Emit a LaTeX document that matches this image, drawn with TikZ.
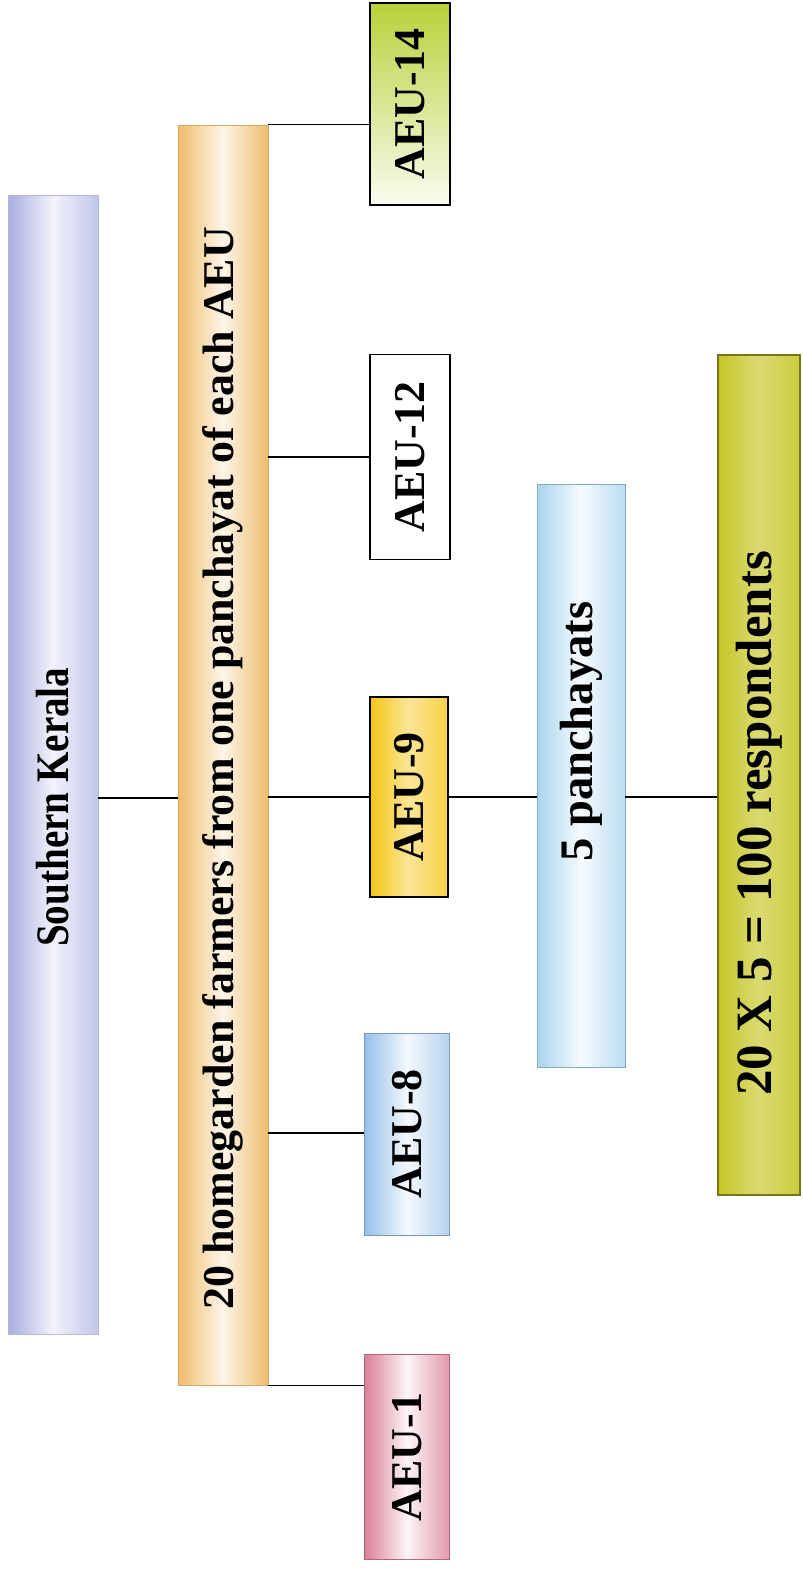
\documentclass[tikz,border=0pt]{standalone}
\usepackage{fontspec}
\setmainfont{Liberation Serif}
\usepackage{tikz}
\definecolor{keralaC}{RGB}{168,172,224}
\definecolor{farmC}{RGB}{240,188,108}
\definecolor{greenC}{RGB}{186,208,58}
\definecolor{goldC}{RGB}{245,198,22}
\definecolor{skyC}{RGB}{150,192,232}
\definecolor{pinkC}{RGB}{218,128,150}
\definecolor{panC}{RGB}{170,212,238}
\definecolor{oliveC}{RGB}{198,198,40}

\begin{document}
\begin{tikzpicture}[x=0.02cm,y=-0.02cm,
	bx/.style={inner sep=0pt, font=\fontsize{25}{28}\selectfont\bfseries},
	lnk/.style={line width=0.8pt}]
			\useasboundingbox (0,0) rectangle (803,1570);
			\node[bx, font=\fontsize{26.5}{30}\selectfont\bfseries, minimum width=1.8cm, minimum height=22.78cm, draw=keralaC!80!black!60, left color=keralaC, right color=keralaC!70, middle color=keralaC!15](kerala) at (53,765) {\rotatebox{90}{\scalebox{0.84}[1]{Southern Kerala}\hspace{48pt}}};
			\node[bx, minimum width=1.8cm, minimum height=25.2cm, draw=farmC!90!black, left color=farmC, right color=farmC, middle color=farmC!15](farm) at (223,755) {\rotatebox{90}{20 homegarden farmers from one panchayat of each AEU\hspace{0.6em}}};
			\node[bx, minimum width=1.6cm, minimum height=4.04cm, draw=black, thick, top color=greenC, bottom color=greenC!8](a14) at (410,104) {\rotatebox{90}{AEU-14}};
			\node[bx, minimum width=1.6cm, minimum height=4.1cm, draw=black, thick, fill=white](a12) at (410,457) {\rotatebox{90}{AEU-12}};
			\node[bx, minimum width=1.56cm, minimum height=4cm, draw=black, thick, left color=goldC, right color=goldC!80, middle color=goldC!45](a9) at (409,797) {\rotatebox{90}{AEU-9}};
			\node[bx, minimum width=1.7cm, minimum height=4.04cm, draw=skyC!80!black, left color=skyC, right color=skyC!70, middle color=skyC!10](a8) at (407,1134) {\rotatebox{90}{AEU-8}};
			\node[bx, minimum width=1.7cm, minimum height=4.1cm, draw=pinkC!80!black, left color=pinkC, right color=pinkC!80, middle color=pinkC!8](a1) at (407,1457) {\rotatebox{90}{AEU-1}};
			\node[bx, font=\fontsize{26.5}{30}\selectfont\bfseries, minimum width=1.76cm, minimum height=11.66cm, draw=panC!80!black, left color=panC, right color=panC!80, middle color=panC!10](pan) at (581,776) {\rotatebox{90}{\hspace{1.9em}5 panchayats}};
			\node[bx, font=\fontsize{29}{33}\selectfont\bfseries, minimum width=1.64cm, minimum height=16.8cm, draw=oliveC!60!black, line width=1pt, left color=oliveC, right color=oliveC!90, middle color=oliveC!65](resp) at (759,775) {\rotatebox{90}{20 X 5 = 100 respondents\hspace{1.9em}}};
			\draw[lnk](kerala.east |- 0,798) -- (farm.west |- 0,798);
			\draw[lnk](farm.north east) -- (a14.west |- farm.north east);
			\draw[lnk](farm.east |- a12.west) -- (a12.west);
			\draw[lnk](farm.east |- a9.west) -- (a9.west);
			\draw[lnk](farm.east |- 0,1133) -- (a8.west |- 0,1133);
			\draw[lnk](farm.south east) -- (a1.west |- farm.south east);
			\draw[lnk](a9.east) -- (pan.west |- a9.east);
			\draw[lnk](pan.east |- a9.east) -- (resp.west |- a9.east);
		\end{tikzpicture}
\end{document}
